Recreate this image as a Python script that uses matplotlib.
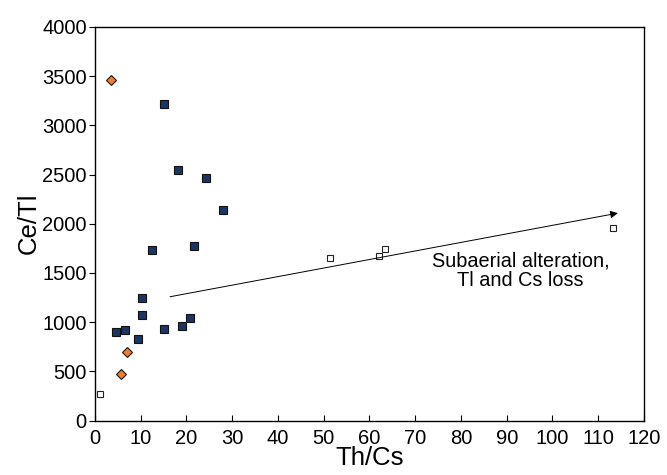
import matplotlib
matplotlib.use("Agg")
import matplotlib.pyplot as plt

# ── data ──
blue_x = [15.1, 18.2, 24.2, 28.0, 12.4, 21.6, 10.2, 10.3, 15.0, 19.1, 20.8, 4.5, 6.5, 9.4]
blue_y = [3215, 2550, 2465, 2140, 1735, 1775, 1245, 1070, 935, 965, 1045, 895, 920, 825]

orange_x = [3.4, 7.1, 5.7]
orange_y = [3465, 695, 470]

white_x = [1.0, 51.3, 62.0, 63.3, 113.3]
white_y = [265, 1650, 1672, 1745, 1960]

arrow_start = (16.4, 1258)
arrow_end = (114.3, 2108)
note = "Subaerial alteration,\nTl and Cs loss"

plt.rcParams["font.family"] = ["Liberation Sans", "DejaVu Sans"]

fig = plt.figure(figsize=(6.67, 4.75), dpi=100)
ax = fig.add_axes([0.1424, 0.1147, 0.8231, 0.8285])

ax.plot(white_x, white_y, "s", ms=4.6, mfc="white", mec="#222222", mew=0.8, zorder=3)
ax.plot(blue_x, blue_y, "s", ms=5.3, mfc="#1d3562", mec="#111111", mew=0.8, zorder=3)
ax.plot(orange_x, orange_y, "D", ms=5.0, mfc="#f07d28", mec="#111111", mew=0.75, zorder=3)

ax.annotate("", xy=arrow_end, xytext=arrow_start,
            arrowprops=dict(arrowstyle="-|>", color="black", lw=0.7,
                            mutation_scale=11, shrinkA=0, shrinkB=0))
ax.text(93.0, 1524, note, ha="center", va="center", fontsize=14.3, linespacing=1.0)

ax.set_xlim(0, 120)
ax.set_ylim(0, 4000)
ax.set_xticks(range(0, 121, 10))
ax.set_yticks(range(0, 4001, 500))
ax.tick_params(axis="x", direction="in", length=4, width=0.8, labelsize=14.5, pad=6)
ax.tick_params(axis="y", direction="out", length=4, width=0.8, labelsize=14.5, pad=2)
for s in ax.spines.values():
    s.set_linewidth(1.0)

ax.set_xlabel("Th/Cs", fontsize=18.5, labelpad=-1)
ax.set_ylabel("Ce/Tl", fontsize=18.5, labelpad=1)

fig.savefig("out.png", dpi=100)
